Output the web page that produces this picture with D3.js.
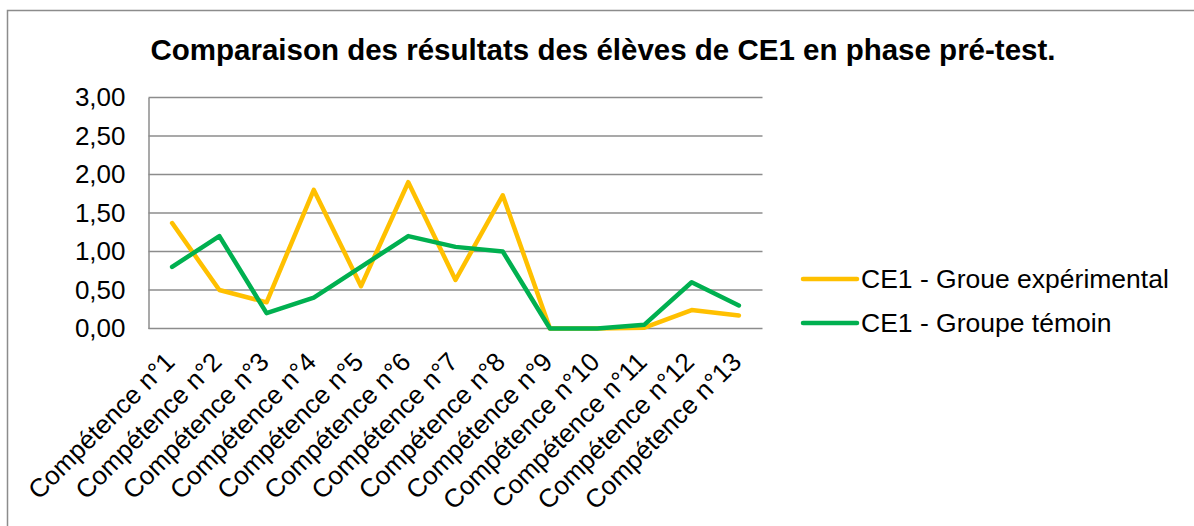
<!DOCTYPE html>
<html><head><meta charset="utf-8">
<script src="https://cdn.jsdelivr.net/npm/d3@7"></script>
<style>body{margin:0;background:#fff;} svg{display:block;}</style>
</head><body>
<svg id="c" width="1194" height="526"></svg>
<script>
const categories = ["Compétence n°1","Compétence n°2","Compétence n°3","Compétence n°4","Compétence n°5","Compétence n°6","Compétence n°7","Compétence n°8","Compétence n°9","Compétence n°10","Compétence n°11","Compétence n°12","Compétence n°13"];
const experimental = [1.37,0.50,0.34,1.80,0.55,1.90,0.63,1.73,0.00,0.00,0.01,0.24,0.17];
const temoin = [0.80,1.20,0.20,0.40,0.80,1.20,1.06,1.00,0.00,0.00,0.05,0.60,0.30];
const yTicks = [0,0.5,1,1.5,2,2.5,3];
const seriesNames = ["CE1 - Groue expérimental","CE1 - Groupe témoin"];
const colors = ["#FFC000","#00B050"];
const title = "Comparaison des résultats des élèves de CE1 en phase pré-test.";

(function(){
const svg = d3.select("#c");
const font = "'Liberation Sans', Arial, sans-serif";
svg.append("rect").attr("x",7.5).attr("y",10.5).attr("width",1300).attr("height",700)
  .attr("fill","none").attr("stroke","#8c8c8c").attr("stroke-width",1.5);

const pL=148.5, pR=762.5, pT=97.5, pB=328.5;
const x = d3.scaleBand().domain(categories).range([pL,pR]);
const y = d3.scaleLinear().domain([0,3]).range([pB,pT]);
const fmt = v => d3.format(".2f")(v).replace(".",",");

svg.append("text").attr("x",603).attr("y",59.5).attr("text-anchor","middle")
  .attr("font-family",font).attr("font-weight","bold").attr("font-size",29.5).text(title);

const yAxis = d3.axisLeft(y).tickValues(yTicks).tickSize(0).tickFormat(fmt).tickPadding(23);
const ga = svg.append("g").attr("transform",`translate(${pL},0)`).call(yAxis);
ga.select(".domain").attr("stroke","#8c8c8c").attr("stroke-width",1.5);
ga.selectAll("text").attr("font-family",font).attr("font-size",26).attr("fill","#000");
svg.append("g").selectAll("line").data(yTicks).join("line")
  .attr("x1",pL).attr("x2",pR).attr("y1",d=>y(d)).attr("y2",d=>y(d))
  .attr("stroke","#8c8c8c").attr("stroke-width",1.5);

svg.append("g").selectAll("text").data(categories).join("text")
  .attr("transform",d=>`translate(${x(d)+x.bandwidth()/2+4},${pB+35}) rotate(-45)`)
  .attr("text-anchor","end").attr("font-family",font).attr("font-size",26).text(d=>d);

const line = d3.line().x((d,i)=>x(categories[i])+x.bandwidth()/2).y(d=>y(d));
[experimental,temoin].forEach((s,k)=>{
  svg.append("path").attr("d",line(s)).attr("fill","none").attr("stroke",colors[k])
    .attr("stroke-width",4.5).attr("stroke-linejoin","round").attr("stroke-linecap","round");
});

const lg = svg.append("g");
seriesNames.forEach((n,k)=>{
  const ly = 279 + k*44;
  lg.append("line").attr("x1",803).attr("x2",857).attr("y1",ly).attr("y2",ly)
    .attr("stroke",colors[k]).attr("stroke-width",4.5).attr("stroke-linecap","round");
  lg.append("text").attr("x",861).attr("y",ly+9).attr("font-family",font).attr("font-size",26.5).text(n);
});
})();
</script>
</body></html>
